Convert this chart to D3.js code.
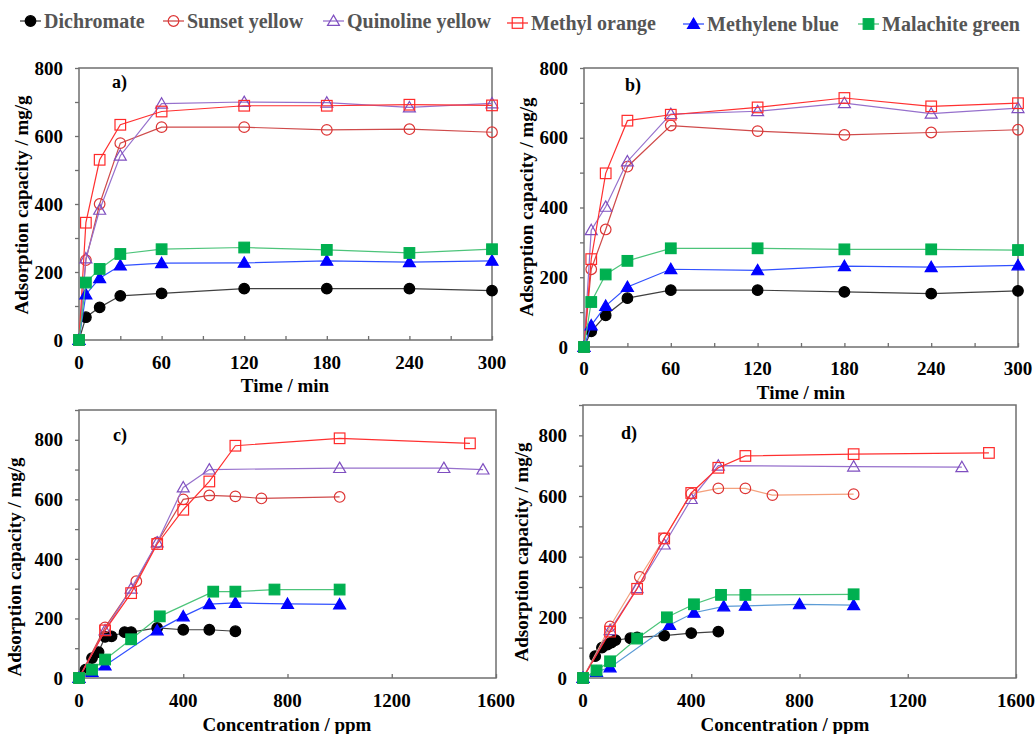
<!DOCTYPE html>
<html><head><meta charset="utf-8">
<script src="https://cdn.jsdelivr.net/npm/d3@7"></script>
<style>body{margin:0;background:#fff}svg{display:block}
text{font-family:"Liberation Serif","Tinos","Times New Roman","DejaVu Serif",serif;font-weight:bold}</style>
</head><body>
<svg id="chart" width="1035" height="734"></svg>
<script>
// ---------------- DATA ----------------
const seriesNames = ["Dichromate","Sunset yellow","Quinoline yellow","Methyl orange","Methylene blue","Malachite green"];
const timeTicks = [0,60,120,180,240,300];
const concTicks = [0,400,800,1200,1600];
const capTicksAB = [0,200,400,600,800];
const capTicksCD = [0,200,400,600,800];

const timeA = [0,5,15,30,60,120,180,240,300];
const dichromateA = [0,67,96,130,137,151,151,151,145];
const sunsetA     = [0,235,400,579,626,626,618,620,611];
const quinolineA  = [0,240,383,542,695,700,698,684,696];
const methylOrA   = [0,345,530,633,672,689,689,692,690];
const methBlueA   = [0,134,182,219,226,227,233,229,233];
const malachiteA  = [0,169,209,253,267,272,265,256,267];

const timeB = [0,5,15,30,60,120,180,240,300];
const dichromateB = [0,45,91,140,163,163,158,153,161];
const sunsetB     = [0,223,337,517,635,619,608,615,623];
const quinolineB  = [0,335,402,532,668,676,699,669,685];
const methylOrB   = [0,252,498,649,666,687,714,690,699];
const methBlueB   = [0,62,118,172,223,220,232,229,234];
const malachiteB  = [0,129,208,247,283,283,280,280,278];

const dichromateC = [[0,0],[25,28],[50,67],[75,87],[100,138],[125,140],[175,154],[200,154],[300,168],[400,162],[500,162],[600,157]];
const sunsetC     = [[0,0],[100,170],[220,325],[300,455],[400,600],[500,613],[600,610],[700,603],[1000,608]];
const quinolineC  = [[0,0],[100,160],[200,300],[300,455],[400,640],[500,700],[1000,705],[1400,705],[1550,700]];
const methylOrC   = [[0,0],[100,160],[200,285],[300,450],[400,565],[500,660],[600,780],[1000,805],[1500,788]];
const methBlueC   = [[0,0],[50,20],[100,42],[300,160],[400,207],[500,248],[600,252],[800,249],[1000,247]];
const malachiteC  = [[0,0],[50,28],[100,62],[200,130],[310,207],[515,290],[600,290],[750,297],[1000,297]];

const dichromateD = [[0,0],[45,72],[70,100],[90,110],[105,117],[120,125],[175,131],[200,134],[300,140],[400,148],[500,153]];
const sunsetD     = [[0,0],[100,170],[210,333],[300,460],[400,608],[500,625],[600,625],[700,603],[1000,606]];
const quinolineD  = [[0,0],[100,158],[200,296],[300,440],[400,590],[500,700],[1000,697],[1400,695]];
const methylOrD   = [[0,0],[100,153],[200,294],[300,460],[400,610],[500,693],[600,732],[1000,738],[1500,742]];
const methBlueD   = [[0,0],[50,20],[100,35],[320,175],[410,215],[520,236],[600,238],[800,243],[1000,240]];
const malachiteD  = [[0,0],[50,25],[100,55],[200,130],[310,200],[410,243],[510,274],[600,274],[1000,276]];

// ---------------- STYLE ----------------
const styles = [
  {sym:"circle",  fill:"#000",    stroke:"#000",    line:"#404040"},
  {sym:"circle",  fill:"none",    stroke:"#dd3535", line:"#cf4a4a"},
  {sym:"triangle",fill:"none",    stroke:"#7f4fc0", line:"#9670cc"},
  {sym:"square",  fill:"none",    stroke:"#ff2a2a", line:"#ff3030"},
  {sym:"triangle",fill:"#0000ff", stroke:"#0000ff", line:"#3050ff"},
  {sym:"square",  fill:"#00b050", stroke:"#00b050", line:"#4cc47a"}
];
const zip = (xs, ys) => xs.map((x,i)=>[x,ys[i]]);

const panels = [
  {label:"a)", xDom:[0,300], yDom:[0,800], xr:[79,492], yr:[340,68], xTicks:timeTicks, xMinor:d3.range(0,301,30),
   yTicks:capTicksAB, yMinor:d3.range(0,801,100), xTitle:"Time / min", xTitlePos:[285,392], tickBase:369,
   yTitlePos:[28,205], labelPos:[112,88],
   series:[zip(timeA,dichromateA),zip(timeA,sunsetA),zip(timeA,quinolineA),zip(timeA,methylOrA),zip(timeA,methBlueA),zip(timeA,malachiteA)]},
  {label:"b)", xDom:[0,300], yDom:[0,800], xr:[584,1018], yr:[347,68], xTicks:timeTicks, xMinor:d3.range(0,301,30),
   yTicks:capTicksAB, yMinor:d3.range(0,801,100), xTitle:"Time / min", xTitlePos:[801,399], tickBase:375,
   yTitlePos:[533,207], labelPos:[625,91],
   series:[zip(timeB,dichromateB),zip(timeB,sunsetB),zip(timeB,quinolineB),zip(timeB,methylOrB),zip(timeB,methBlueB),zip(timeB,malachiteB)]},
  {label:"c)", xDom:[0,1600], yDom:[0,900], xr:[79,496], yr:[678,410], xTicks:concTicks, xMinor:concTicks,
   yTicks:capTicksCD, yMinor:d3.range(0,901,100), xTitle:"Concentration / ppm", xTitlePos:[287,731], tickBase:707,
   yTitlePos:[21,567], labelPos:[113,441],
   series:[dichromateC,sunsetC,quinolineC,methylOrC,methBlueC,malachiteC]},
  {label:"d)", xDom:[0,1600], yDom:[0,900], xr:[583,1016], yr:[678,405], xTicks:concTicks, xMinor:concTicks,
   yTicks:capTicksCD, yMinor:d3.range(0,901,100), xTitle:"Concentration / ppm", xTitlePos:[785,731], tickBase:707,
   yTitlePos:[528,552], labelPos:[621,439], lineOverride:{1:"#f4a07c",4:"#5b9bd5"},
   series:[dichromateD,sunsetD,quinolineD,methylOrD,methBlueD,malachiteD]}
];

const svg = d3.select("#chart");
svg.append("rect").attr("width",1035).attr("height",734).attr("fill","#fff");
const AX = "#6f6f6f";

function drawMarker(g, x, y, st){
  if(st.sym==="circle"){
    g.append("circle").attr("cx",x).attr("cy",y).attr("r",5.3)
      .attr("fill",st.fill).attr("stroke",st.stroke).attr("stroke-width",1.2);
  } else if(st.sym==="square"){
    g.append("rect").attr("x",x-5.3).attr("y",y-5.3).attr("width",10.6).attr("height",10.6)
      .attr("fill",st.fill).attr("stroke",st.stroke).attr("stroke-width",1.2);
  } else {
    g.append("path").attr("transform",`translate(${x},${y+1})`)
      .attr("d",d3.symbol(d3.symbolTriangle,62)())
      .attr("fill",st.fill).attr("stroke",st.stroke).attr("stroke-width",1.2);
  }
}

panels.forEach(p=>{
  const x = d3.scaleLinear().domain(p.xDom).range(p.xr);
  const y = d3.scaleLinear().domain(p.yDom).range(p.yr);
  const g = svg.append("g");
  g.append("rect").attr("x",p.xr[0]).attr("y",p.yr[1]).attr("width",p.xr[1]-p.xr[0]).attr("height",p.yr[0]-p.yr[1])
    .attr("fill","none").attr("stroke",AX).attr("stroke-width",1.5);
  const xa = g.append("g").attr("transform",`translate(0,${p.yr[0]})`)
    .call(d3.axisBottom(x).tickValues(p.xMinor).tickSizeInner(-4).tickSizeOuter(0).tickFormat(""));
  xa.select(".domain").remove();
  xa.selectAll("line").attr("stroke",AX).attr("stroke-width",1.3);
  g.selectAll(".xl").data(p.xTicks).enter().append("text")
    .attr("x",d=>x(d)).attr("y",p.tickBase).attr("text-anchor","middle")
    .attr("font-size",19).text(d=>d);
  const ya = g.append("g").attr("transform",`translate(${p.xr[0]},0)`)
    .call(d3.axisLeft(y).tickValues(p.yMinor).tickSizeInner(4).tickSizeOuter(0).tickFormat(""));
  ya.select(".domain").remove();
  ya.selectAll("line").attr("stroke",AX).attr("stroke-width",1.3);
  g.selectAll(".yl").data(p.yTicks).enter().append("text")
    .attr("x",p.xr[0]-16).attr("y",d=>y(d)).attr("dy","0.35em").attr("text-anchor","end")
    .attr("font-size",19).text(d=>d);
  g.append("text").attr("x",p.xTitlePos[0]).attr("y",p.xTitlePos[1]).attr("text-anchor","middle")
    .attr("font-size",19).text(p.xTitle);
  g.append("text").attr("transform",`translate(${p.yTitlePos[0]},${p.yTitlePos[1]}) rotate(-90)`)
    .attr("text-anchor","middle")
    .attr("font-size",19).text("Adsorption capacity / mg/g");
  g.append("text").attr("x",p.labelPos[0]).attr("y",p.labelPos[1])
    .attr("font-size",18).text(p.label);
  const line = d3.line().x(d=>x(d[0])).y(d=>y(d[1]));
  p.series.forEach((data,i)=>{
    const st = styles[i];
    const lc = (p.lineOverride && p.lineOverride[i]) || st.line;
    const sg = g.append("g");
    sg.append("path").attr("d",line(data)).attr("fill","none").attr("stroke",lc).attr("stroke-width",1.2);
    data.forEach(d=>drawMarker(sg,x(d[0]),y(d[1]),st));
  });
});

// legend
const legendX = [20,163,323,507,683,858];
const legendY = [21,21,21,23,24,24];
const leg = svg.append("g");
seriesNames.forEach((n,i)=>{
  const st = styles[i];
  const lx = legendX[i], ly = legendY[i];
  leg.append("line").attr("x1",lx).attr("x2",lx+21).attr("y1",ly).attr("y2",ly)
    .attr("stroke",st.line).attr("stroke-width",1.3);
  drawMarker(leg.append("g"), lx+10.5, ly, st);
  leg.append("text").attr("x",lx+24).attr("y",ly).attr("dy","0.33em")
    .attr("font-size",20).attr("fill","#555")
    .text(n);
});
</script>
</body></html>
